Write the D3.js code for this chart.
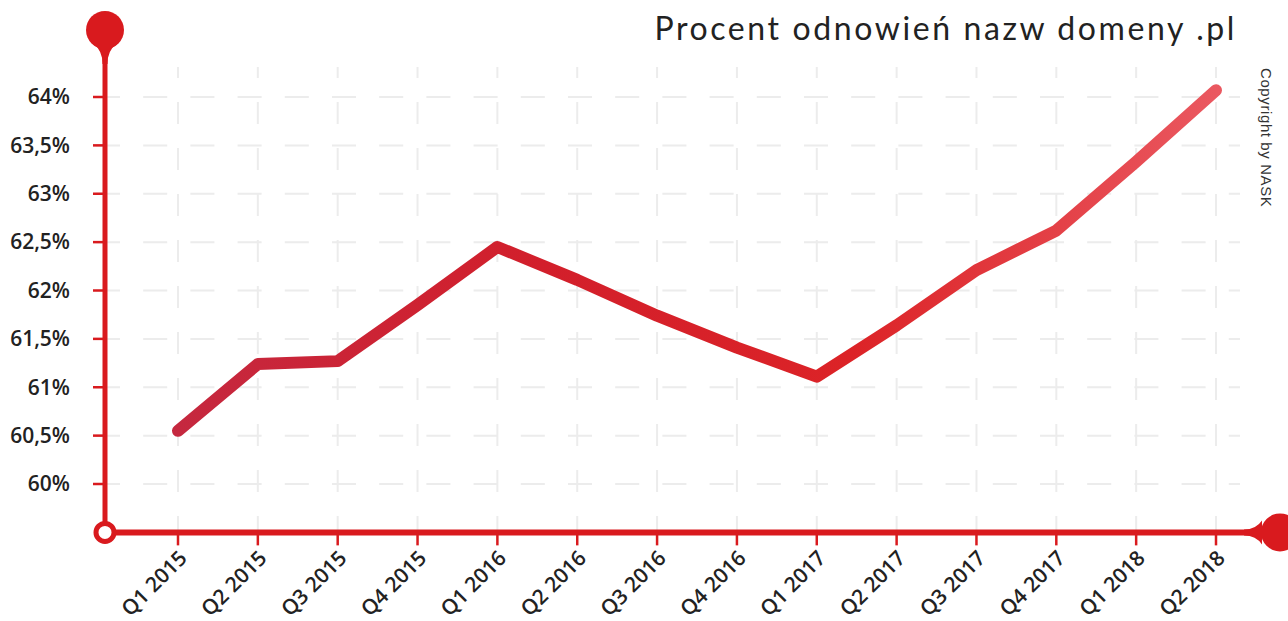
<!DOCTYPE html>
<html lang="pl">
  <head>
    <meta charset="UTF-8" />
    <title>Procent odnowień nazw domeny .pl</title>
    <script src="https://d3js.org/d3.v7.min.js"></script>
    <style>
      body { margin: 0; background: #fff; }
      .grid line { stroke: #ececec; stroke-width: 2; }
      .ylab, .xlab { font-family: "Open Sans", sans-serif; font-weight: 600; fill: #222; }
      .ylab { font-size: 21px; }
      .xlab { font-size: 21px; }
    </style>
  </head>
  <body>
    <svg width="1288" height="621"></svg>
    <script>
      const width = 1288;
      const height = 621;
      const red = "#d91a1e";

      // dane
      const categories = ["Q1 2015", "Q2 2015", "Q3 2015", "Q4 2015", "Q1 2016", "Q2 2016", "Q3 2016",
        "Q4 2016", "Q1 2017", "Q2 2017", "Q3 2017", "Q4 2017", "Q1 2018", "Q2 2018"];
      const values = [60.55, 61.24, 61.27, 61.85, 62.45, 62.11, 61.74,
        61.41, 61.11, 61.64, 62.21, 62.62, 63.33, 64.07];
      const yTicks = [60, 60.5, 61, 61.5, 62, 62.5, 63, 63.5, 64];
      const yMin = 59.5;

      const svg = d3.select("svg");

      const x = d3.scalePoint().domain(categories).range([178, 1216]);
      const y = d3.scaleLinear().domain([60, 64]).range([484, 97]);

      const axisX = 105;
      const axisY = y(yMin);

      const fmt = (v) => (v % 1 ? v.toFixed(1).replace(".", ",") : v) + "%";

      // gradient linii
      const grad = svg.append("defs").append("linearGradient")
        .attr("id", "lineGrad")
        .attr("gradientUnits", "userSpaceOnUse")
        .attr("x1", x(categories[0])).attr("x2", x(categories[categories.length - 1]))
        .attr("y1", 0).attr("y2", 0);
      grad.append("stop").attr("offset", "0%").attr("stop-color", "#c5283f");
      grad.append("stop").attr("offset", "35%").attr("stop-color", "#d21f2b");
      grad.append("stop").attr("offset", "65%").attr("stop-color", "#dc2327");
      grad.append("stop").attr("offset", "100%").attr("stop-color", "#ea5860");

      // siatka
      const grid = svg.append("g").attr("class", "grid");
      grid.selectAll(".h").data(yTicks).enter().append("line")
        .attr("x1", 96).attr("x2", 1240)
        .attr("y1", (d) => y(d)).attr("y2", (d) => y(d))
        .attr("stroke-dasharray", "24,23.2");
      grid.selectAll(".v").data(categories).enter().append("line")
        .attr("x1", (d) => x(d)).attr("x2", (d) => x(d))
        .attr("y1", 67).attr("y2", axisY)
        .attr("stroke-dasharray", "22,24")
        .attr("stroke-dashoffset", 11);

      // osie
      svg.append("line")
        .attr("x1", axisX).attr("x2", axisX).attr("y1", 40).attr("y2", axisY)
        .attr("stroke", red).attr("stroke-width", 5);
      svg.append("line")
        .attr("x1", axisX).attr("x2", 1260).attr("y1", axisY).attr("y2", axisY)
        .attr("stroke", red).attr("stroke-width", 6);

      // znaczniki końców osi
      svg.append("circle").attr("cx", axisX).attr("cy", 30).attr("r", 19).attr("fill", red);
      svg.append("path")
        .attr("d", `M${axisX - 2.5},64 Q${axisX - 2.5},50 ${axisX - 12},44 L${axisX + 12},44 Q${axisX + 2.5},50 ${axisX + 2.5},64 Z`)
        .attr("fill", red);
      svg.append("circle").attr("cx", 1280).attr("cy", axisY).attr("r", 19).attr("fill", red);
      svg.append("path")
        .attr("d", `M1244,${axisY - 3} Q1256,${axisY - 3} 1262,${axisY - 12} L1262,${axisY + 12} Q1256,${axisY + 3} 1244,${axisY + 3} Z`)
        .attr("fill", red);
      svg.append("circle").attr("cx", axisX).attr("cy", axisY).attr("r", 9)
        .attr("fill", "#fff").attr("stroke", red).attr("stroke-width", 5);

      // ticki osi Y
      svg.selectAll(".ytick").data(yTicks).enter().append("line")
        .attr("x1", 93).attr("x2", axisX)
        .attr("y1", (d) => y(d)).attr("y2", (d) => y(d))
        .attr("stroke", red).attr("stroke-width", 2.5);
      svg.selectAll(".ylab").data(yTicks).enter().append("text")
        .attr("class", "ylab")
        .attr("x", 70).attr("y", (d) => y(d))
        .attr("dy", "0.35em")
        .attr("text-anchor", "end")
        .text(fmt);

      // ticki osi X
      svg.selectAll(".xtick").data(categories).enter().append("line")
        .attr("x1", (d) => x(d)).attr("x2", (d) => x(d))
        .attr("y1", axisY).attr("y2", axisY + 13)
        .attr("stroke", red).attr("stroke-width", 2.5);
      svg.selectAll(".xlab").data(categories).enter().append("text")
        .attr("class", "xlab")
        .attr("text-anchor", "end")
        .attr("transform", (d) => `translate(${x(d) + 5},${axisY + 22}) rotate(-45)`)
        .attr("dy", "0.35em")
        .text((d) => d);

      // linia danych
      const line = d3.line()
        .x((d, i) => x(categories[i]))
        .y((d) => y(d));
      svg.append("path")
        .datum(values)
        .attr("d", line)
        .attr("fill", "none")
        .attr("stroke", "url(#lineGrad)")
        .attr("stroke-width", 12)
        .attr("stroke-linecap", "round")
        .attr("stroke-linejoin", "round");

      // tytuł
      svg.append("text")
        .attr("x", 1237).attr("y", 40)
        .attr("text-anchor", "end")
        .style("font-family", "Lato, sans-serif")
        .style("font-size", "32px")
        .style("letter-spacing", "2.6px")
        .style("fill", "#222")
        .text("Procent odnowień nazw domeny .pl");

      // copyright
      svg.append("text")
        .attr("transform", "translate(1261,68) rotate(90)")
        .style("font-family", "Liberation Sans, Arial, sans-serif")
        .style("font-size", "15px")
        .style("letter-spacing", "0.6px")
        .style("fill", "#333")
        .text("Copyright by NASK");
    </script>
  </body>
</html>
